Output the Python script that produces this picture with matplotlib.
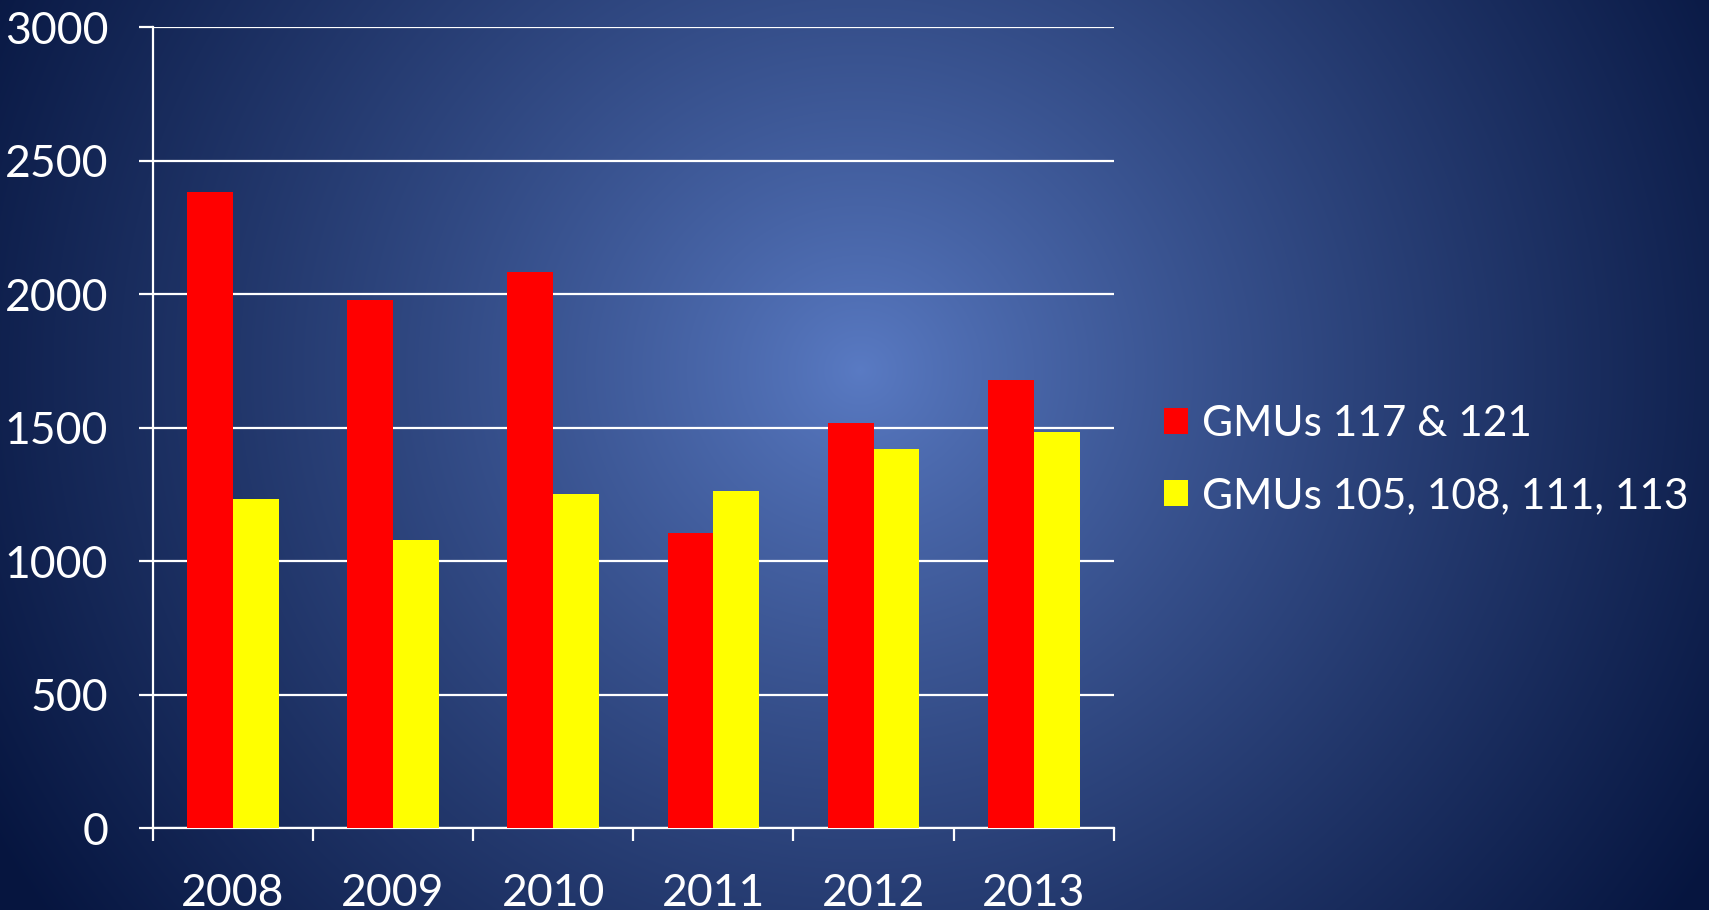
import numpy as np
import matplotlib.pyplot as plt
from matplotlib.colors import to_rgb

# === DATA ===
years = ["2008", "2009", "2010", "2011", "2012", "2013"]
gmu_117_121 = [2382, 1979, 2084, 1107, 1518, 1681]
gmu_105_113 = [1234, 1079, 1252, 1265, 1422, 1486]
series_labels = ["GMUs 117 & 121", "GMUs 105, 108, 111, 113"]
y_ticks = [0, 500, 1000, 1500, 2000, 2500, 3000]

plt.rcParams["font.family"] = ["Lato", "DejaVu Sans"]

W, H, DPI = 1709, 910, 100
fig = plt.figure(figsize=(W / DPI, H / DPI), dpi=DPI)

# === BACKGROUND (radial gradient) ===
bg = fig.add_axes([0, 0, 1, 1], zorder=-1)
yy, xx = np.mgrid[0:H, 0:W]
d = np.sqrt(((xx - 860) / 1000.0) ** 2 + ((yy - 370) / 950.0) ** 2)
t = np.clip(d, 0, 1) ** 0.85
c0 = np.array(to_rgb("#5a7bc4"))
c1 = np.array(to_rgb("#06153f"))
img = c0[None, None, :] * (1 - t[..., None]) + c1[None, None, :] * t[..., None]
bg.imshow(img, aspect="auto", extent=[0, 1, 0, 1], origin="upper")
bg.axis("off")

# === BARS ===
ax = fig.add_axes([0.0893, 0.0897, 0.5625, 0.8803])
ax.set_facecolor("none")
x = np.arange(len(years))
w = 0.286
ax.bar(x - w / 2, gmu_117_121, w, color="#ff0000", label=series_labels[0], zorder=3)
ax.bar(x + w / 2, gmu_105_113, w, color="#ffff00", label=series_labels[1], zorder=3)

ax.set_xlim(-0.5, len(years) - 0.5)
ax.set_ylim(0, 3000)
ax.set_yticks(y_ticks)
ax.yaxis.grid(True, color="white", linewidth=1.6, zorder=1)
ax.set_axisbelow(True)

ax.set_xticks(np.arange(len(years) + 1) - 0.5)
ax.set_xticklabels([])
ax.set_xticks(x, minor=True)
ax.set_xticklabels(years, minor=True)
ax.tick_params(axis="x", which="major", length=9, width=1.6, color="white")
ax.tick_params(axis="x", which="minor", length=0, pad=32, labelsize=32, labelcolor="white")
ax.tick_params(axis="y", length=10, width=1.6, color="white", pad=22,
               labelsize=32, labelcolor="white")

for s in ["top", "right"]:
    ax.spines[s].set_visible(False)
for s in ["left", "bottom"]:
    ax.spines[s].set_color("white")
    ax.spines[s].set_linewidth(1.6)

leg = ax.legend(loc="center left", bbox_to_anchor=(1164 / W, 1 - 460 / H),
                bbox_transform=fig.transFigure, frameon=False, fontsize=30.5,
                handlelength=0.56, handleheight=0.56, handletextpad=0.33,
                labelspacing=0.82, borderpad=0, borderaxespad=0)
for txt in leg.get_texts():
    txt.set_color("white")

fig.savefig("out.png", dpi=DPI)
